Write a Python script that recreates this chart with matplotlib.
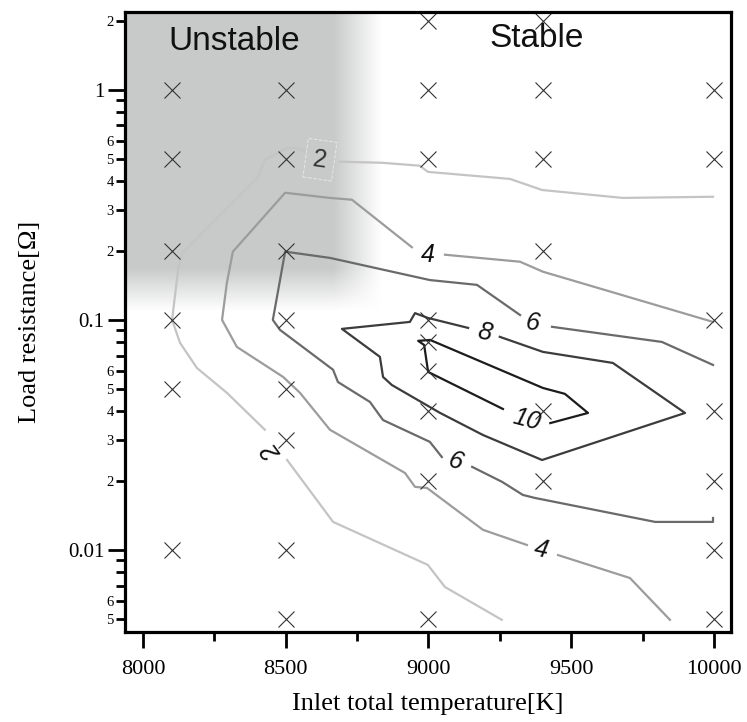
import numpy as np
import matplotlib
matplotlib.use("Agg")
import matplotlib.pyplot as plt
from matplotlib.ticker import FixedLocator, FuncFormatter

# sample points (inlet temperature [K], load resistance [ohm])
pts_T = [8100] * 6 + [8500] * 8 + [9000] * 9 + [9400] * 6 + [10000] * 7
pts_R = [1, 0.5, 0.2, 0.1, 0.05, 0.01,
         1, 0.5, 0.2, 0.1, 0.05, 0.03, 0.01, 0.005,
         2, 1, 0.5, 0.1, 0.08, 0.06, 0.04, 0.02, 0.005,
         2, 1, 0.5, 0.2, 0.04, 0.02,
         1, 0.5, 0.1, 0.04, 0.02, 0.01, 0.005]

# contour lines, split where the labels sit
c2_T = [[9997, 9681, 9398, 9286, 8998, 8970, 8837, 8690],
        [8575, 8543, 8505, 8427, 8403, 8137, 8123, 8102, 8130, 8189, 8294, 8427],
        [8505, 8666, 8998, 9058, 9257]]
c2_R = [[0.343, 0.339, 0.367, 0.410, 0.440, 0.468, 0.482, 0.487],
        [0.537, 0.554, 0.560, 0.496, 0.419, 0.195, 0.165, 0.100, 0.0794, 0.0618, 0.0482, 0.0333],
        [0.0246, 0.01324, 0.00861, 0.0069, 0.00497]]

c4_T = [[9997, 9401, 9321, 9058],
        [8942, 8732, 8655, 8498, 8315, 8294, 8277, 8329, 8491, 8550, 8655, 8918, 8953, 8995, 9191, 9345],
        [9454, 9706, 9846]]
c4_R = [[0.098, 0.162, 0.179, 0.192],
        [0.207, 0.333, 0.339, 0.357, 0.198, 0.145, 0.100, 0.0763, 0.0565, 0.0482, 0.0333,
         0.0216, 0.0188, 0.0186, 0.01223, 0.01051],
        [0.0095, 0.00755, 0.00497]]

c6_T = [[9997, 9997, 9794, 9373, 9331, 9258, 9153],
        [9047, 9005, 8841, 8795, 8683, 8666, 8480, 8455, 8498, 8655, 9005, 9170, 9321],
        [9433, 9818, 9997]]
c6_R = [[0.01377, 0.01324, 0.01324, 0.01683, 0.01734, 0.01977, 0.02297],
        [0.02535, 0.0295, 0.0367, 0.044, 0.0537, 0.0607, 0.0905, 0.1, 0.198, 0.186, 0.149, 0.142, 0.105],
        [0.0933, 0.0802, 0.0637]]

c8_T = [[9250, 9401, 9646, 9758, 9899, 9398, 9191, 9041, 8872, 8841, 8830, 8697, 8935, 8953, 8998, 9139]]
c8_R = [[0.0844, 0.0726, 0.065, 0.0521, 0.0394, 0.0246, 0.0316, 0.0394, 0.0521, 0.0565,
         0.0691, 0.0914, 0.098, 0.107, 0.102, 0.0923]]

c10_T = [[9427, 9559, 9478, 9401, 9006, 8964, 8985, 8999, 9261]]
c10_R = [[0.0356, 0.0394, 0.0477, 0.0506, 0.0818, 0.0811, 0.0778, 0.0594, 0.041]]

# label text, position, rotation
clabels = [("2", 8620, 0.497, -8), ("4", 8998, 0.192, 0), ("6", 9366, 0.097, -8),
           ("8", 9195, 0.0878, -12), ("10", 9345, 0.0367, -15), ("6", 9096, 0.0242, -18),
           ("4", 9394, 0.0100, -12), ("2", 8452, 0.0267, 126)]

# unstable region edges: solid up to first value, faded out at second
shade_T = (8666, 8835)
shade_R = (0.168, 0.110)

x_major = [8000, 8500, 9000, 9500, 10000]
x_minor = [8250, 8750, 9250, 9750]
y_major = {0.01: "0.01", 0.1: "0.1", 1: "1"}
y_minor_lab = [0.005, 0.006, 0.02, 0.03, 0.04, 0.05, 0.06, 0.2, 0.3, 0.4, 0.5, 0.6, 2]
y_minor_nolab = [0.007, 0.008, 0.009, 0.07, 0.08, 0.09, 0.7, 0.8, 0.9]

xlim = (7937, 10060)
ylim = (0.0044, 2.18)

plt.rcParams['font.family'] = ['Liberation Serif', 'DejaVu Serif']

fig = plt.figure(figsize=(7.47, 7.22), dpi=100)
ax = fig.add_axes([0.1673, 0.1247, 0.8113, 0.8587])
ax.set_yscale('log')
ax.set_xlim(*xlim)
ax.set_ylim(*ylim)

# grey "unstable" shading with a soft edge, drawn in axes fractions
ly0, ly1 = np.log10(ylim[0]), np.log10(ylim[1])
ax_x = np.linspace(0, 1, 700)
ax_y = np.linspace(0, 1, 700)
gT = xlim[0] + ax_x * (xlim[1] - xlim[0])
gL = ly0 + ax_y * (ly1 - ly0)
fx = np.clip((shade_T[1] - gT) / (shade_T[1] - shade_T[0]), 0, 1)
fy = np.clip((gL - np.log10(shade_R[1])) /
             (np.log10(shade_R[0]) - np.log10(shade_R[1])), 0, 1)
alpha = np.outer(fy, fx)
rgba = np.zeros((len(ax_y), len(ax_x), 4))
rgba[..., 0] = 0.788
rgba[..., 1] = 0.796
rgba[..., 2] = 0.792
rgba[..., 3] = alpha
ax.imshow(rgba, extent=(0, 1, 0, 1), transform=ax.transAxes, origin='lower',
          aspect='auto', interpolation='bilinear', zorder=0)
ax.set_xlim(*xlim)
ax.set_ylim(*ylim)

for segT, segR, col in [(c2_T, c2_R, '#c4c4c4'), (c4_T, c4_R, '#9c9c9c'),
                        (c6_T, c6_R, '#6a6a6a'), (c8_T, c8_R, '#3c3c3c'),
                        (c10_T, c10_R, '#1c1c1c')]:
    for t, r in zip(segT, segR):
        ax.plot(t, r, color=col, lw=1.6, zorder=2)

ax.plot(pts_T, pts_R, ls='none', marker='x', ms=11.5, mew=0.8, color='#333333', zorder=3)

for i, (s, t, r, rot) in enumerate(clabels):
    if i == 0:
        ax.text(t, r, s, fontsize=18, family='Liberation Sans', color='#333333',
                ha='center', va='center', rotation=rot, zorder=4,
                bbox=dict(boxstyle='square,pad=0.3', fc='none', ec='#e6e6e6', ls='--', lw=0.7))
    else:
        ax.text(t, r, s, fontsize=18, family='Liberation Sans', style='italic', color='#111111',
                ha='center', va='center', rotation=rot, zorder=4)

ax.text(8319, 1.49, "Unstable", fontsize=24, family='Liberation Sans', color='#111111',
        ha='center', va='baseline', zorder=4)
ax.text(9380, 1.54, "Stable", fontsize=24, family='Liberation Sans', color='#111111',
        ha='center', va='baseline', zorder=4)

# axes styling
for sp in ax.spines.values():
    sp.set_linewidth(2.3)
    sp.set_zorder(5)

ax.xaxis.set_major_locator(FixedLocator(x_major))
ax.xaxis.set_minor_locator(FixedLocator(x_minor))
ax.xaxis.set_minor_formatter(FuncFormatter(lambda v, p: ""))
ax.tick_params(axis='x', which='major', length=11.5, width=2, labelsize=16, pad=9, direction='out')
ax.tick_params(axis='x', which='minor', length=6.5, width=2, direction='out')

minor_all = sorted(y_minor_lab + y_minor_nolab)


def minor_fmt(v, p):
    for m in y_minor_lab:
        if abs(v - m) / m < 1e-6:
            e = np.floor(np.log10(m) + 1e-9)
            return "%d" % round(m / 10 ** e)
    return ""


ax.yaxis.set_major_locator(FixedLocator(list(y_major.keys())))
ax.yaxis.set_major_formatter(FuncFormatter(lambda v, p: y_major.get(round(v, 4), "")))
ax.yaxis.set_minor_locator(FixedLocator(minor_all))
ax.yaxis.set_minor_formatter(FuncFormatter(minor_fmt))
ax.tick_params(axis='y', which='major', length=12, width=2, labelsize=15, pad=3, direction='out')
ax.tick_params(axis='y', which='minor', length=6.5, width=2, labelsize=10.5, pad=1.5, direction='out')

ax.set_xlabel("Inlet total temperature[K]", fontsize=19)
ax.set_ylabel("Load resistance[Ω]", fontsize=19)
ax.xaxis.set_label_coords(0.5, -0.098)
ax.yaxis.set_label_coords(-0.138, 0.5)

fig.savefig("out.png", dpi=100)
